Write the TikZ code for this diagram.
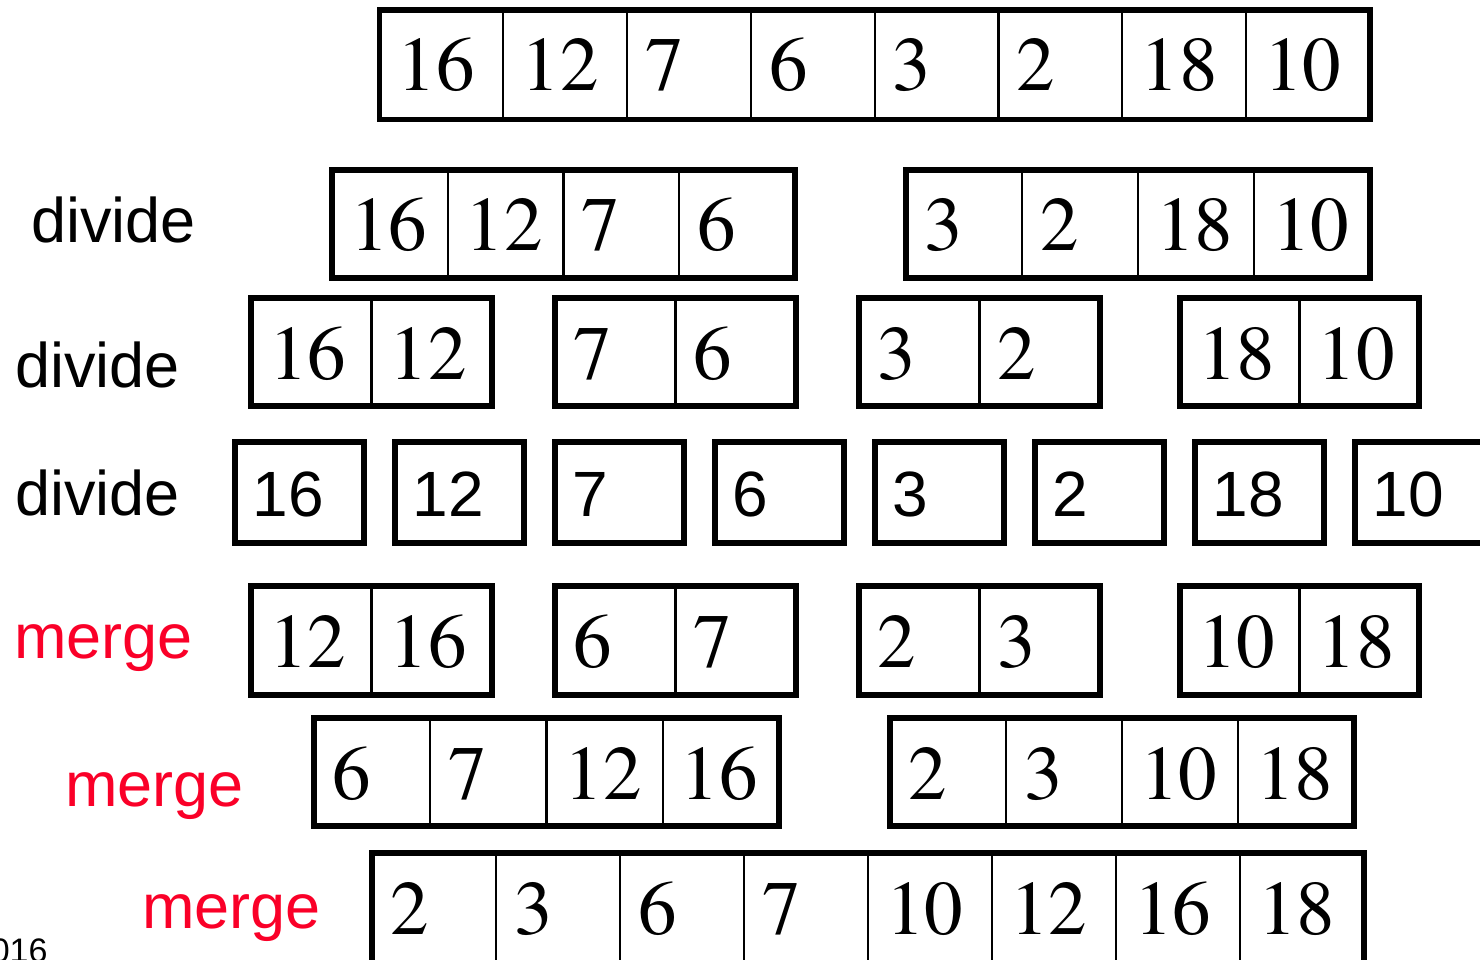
\documentclass[tikz,border=0pt]{standalone}
\usepackage{fontspec}
\newfontfamily\numfont{TeX Gyre Termes}
\newfontfamily\lblfont{Liberation Sans}
\definecolor{mred}{RGB}{250,0,40}
\tikzset{
  outerbox/.style={line width=5.5pt, line join=miter},
  divline/.style={line width=2.2pt},
  numtxt/.style={anchor=base west, inner sep=0pt, font=\numfont\fontsize{77}{77}\selectfont},
  sanstxt/.style={anchor=base west, inner sep=0pt, font=\lblfont\fontsize{64}{64}\selectfont},
  lbl/.style={anchor=base west, inner sep=0pt, font=\lblfont\fontsize{63}{63}\selectfont},
  redlbl/.style={lbl, text=mred},
}
% name, x0, x1, ytop, ybottom, n, values
\newcommand\arrbox[7]{%
  \pgfmathsetmacro\cw{(#3-#2)/#6}%
  \foreach \v [count=\i] in {#7} {%
    \pgfmathsetmacro\xl{#2+(\i-1)*\cw}%
    \ifnum\i>1 \draw[divline] (\xl,#4) -- (\xl,#5);\fi
    \node[numtxt] (#1-\i) at ({\xl+18},{#4+81}) {\v};
  }%
  \draw[outerbox] (#2,#4) rectangle (#3,#5);
}
\begin{document}
\begin{tikzpicture}[x=1pt,y=-1pt]
\useasboundingbox[fill=white] (0,0) rectangle (1480,960);

% row 0
\arrbox{r0}{379.5}{1370}{10}{119.5}{8}{16,12,7,6,3,2,18,10}
% row 1
\arrbox{r1a}{332}{795}{170}{278}{4}{16,12,7,6}
\arrbox{r1b}{906}{1370}{170}{278}{4}{3,2,18,10}
% row 2
\arrbox{r2a}{251}{492}{298}{406}{2}{16,12}
\arrbox{r2b}{555}{796}{298}{406}{2}{7,6}
\arrbox{r2c}{859}{1100}{298}{406}{2}{3,2}
\arrbox{r2d}{1180}{1419}{298}{406}{2}{18,10}
% row 3
\foreach \v [count=\i] in {16,12,7,6,3,2,18,10} {
  \pgfmathsetmacro\xl{235+(\i-1)*160}
  \draw[outerbox] (\xl,442) rectangle ({\xl+129},543);
  \node[sanstxt] (r3-\i) at ({\xl+17.5},516) {\v};
}
% row 4
\arrbox{r4a}{251}{492}{586}{695}{2}{12,16}
\arrbox{r4b}{555}{796}{586}{695}{2}{6,7}
\arrbox{r4c}{859}{1100}{586}{695}{2}{2,3}
\arrbox{r4d}{1180}{1419}{586}{695}{2}{10,18}
% row 5
\arrbox{r5a}{314}{779}{718}{826}{4}{6,7,12,16}
\arrbox{r5b}{890}{1354}{718}{826}{4}{2,3,10,18}
% row 6
\arrbox{r6}{372}{1364}{853}{985}{8}{2,3,6,7,10,12,16,18}

% labels
\node[lbl] (d1) at (31,242) {divide};
\node[lbl] (d2) at (15,387) {divide};
\node[lbl] (d3) at (15,515) {divide};
\node[redlbl] (m1) at (14,658) {merge};
\node[redlbl] (m2) at (65,806) {merge};
\node[redlbl] (m3) at (142,928) {merge};
\node[anchor=base west, inner sep=0pt, font=\lblfont\fontsize{34}{34}\selectfont] (yr) at (-9.4,962) {016};
\end{tikzpicture}
\end{document}
